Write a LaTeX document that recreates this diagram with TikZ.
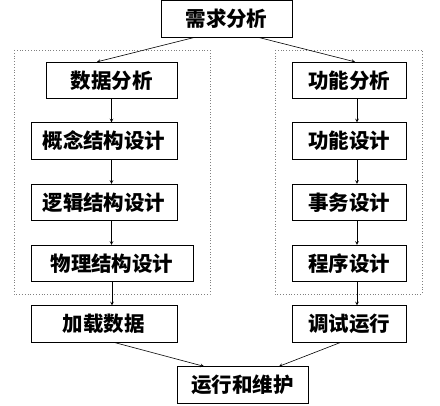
\documentclass[tikz,border=0pt]{standalone}
\usepackage{fontspec}
\newfontfamily\cjk{Noto Sans CJK SC}
\usepackage{tikz}

\begin{document}
\begin{tikzpicture}[x=1pt,y=-1pt]
    % Styles for boxes and lines
    \tikzset{
      box/.style={rectangle, draw=black, line width=0.8pt, align=center, inner sep=0pt, minimum height=36.5pt, font=\cjk\bfseries\fontsize{20.5}{24}\selectfont},
      arrow/.style={line width=0.6pt,->,>=stealth},
      group/.style={draw=gray, dotted, line width=0.8pt}
    }
    \useasboundingbox (0,0) rectangle (440,406);

    % Dotted frames
    \draw[group] (14,50) rectangle (210,294);
    \draw[group] (275,50) rectangle (422,294);

    % Nodes with explicit coordinates
    \node[box, minimum width=131pt] (need) at (226.5,19) {需求分析};
    \node[box, minimum width=131pt] (data) at (111.5,80.5) {数据分析};
    \node[box, minimum width=146pt] (concept) at (104,141) {概念结构设计};
    \node[box, minimum width=146pt] (logic) at (104,202.5) {逻辑结构设计};
    \node[box, minimum width=162pt] (phys) at (112,263.5) {物理结构设计};
    \node[box, minimum width=146pt] (load) at (104,324) {加载数据};
    \node[box, minimum width=114pt] (func) at (349,80.5) {功能分析};
    \node[box, minimum width=114pt] (funcdes) at (349,141) {功能设计};
    \node[box, minimum width=114pt] (trans) at (349,202.5) {事务设计};
    \node[box, minimum width=114pt] (prog) at (349,263.5) {程序设计};
    \node[box, minimum width=114pt] (debug) at (349,324) {调试运行};
    \node[box, minimum width=131pt] (maint) at (242.5,385) {运行和维护};

    % Arrows
    \draw[arrow] ([xshift=-33pt]need.south) -- ([xshift=-14.5pt]data.north);
    \draw[arrow] ([xshift=33pt]need.south) -- ([xshift=6pt]func.north);
    \draw[arrow] (data.south) -- (data.south |- concept.north);
    \draw[arrow] (data.south |- concept.south) -- (data.south |- logic.north);
    \draw[arrow] (data.south |- logic.south) -- (data.south |- phys.north);
    \draw[arrow] (phys.south) -- (phys.south |- load.north);
    \draw[arrow] ([xshift=8pt]func.south) -- ([xshift=8pt]funcdes.north);
    \draw[arrow] ([xshift=8pt]funcdes.south) -- ([xshift=8pt]trans.north);
    \draw[arrow] ([xshift=8pt]trans.south) -- ([xshift=8pt]prog.north);
    \draw[arrow] ([xshift=8pt]prog.south) -- ([xshift=8pt]debug.north);
    \draw[arrow] ([xshift=11pt]load.south) -- ([xshift=-38.5pt]maint.north);
    \draw[arrow] ([xshift=-9pt]debug.south) -- ([xshift=36.5pt]maint.north);

\end{tikzpicture}
\end{document}
